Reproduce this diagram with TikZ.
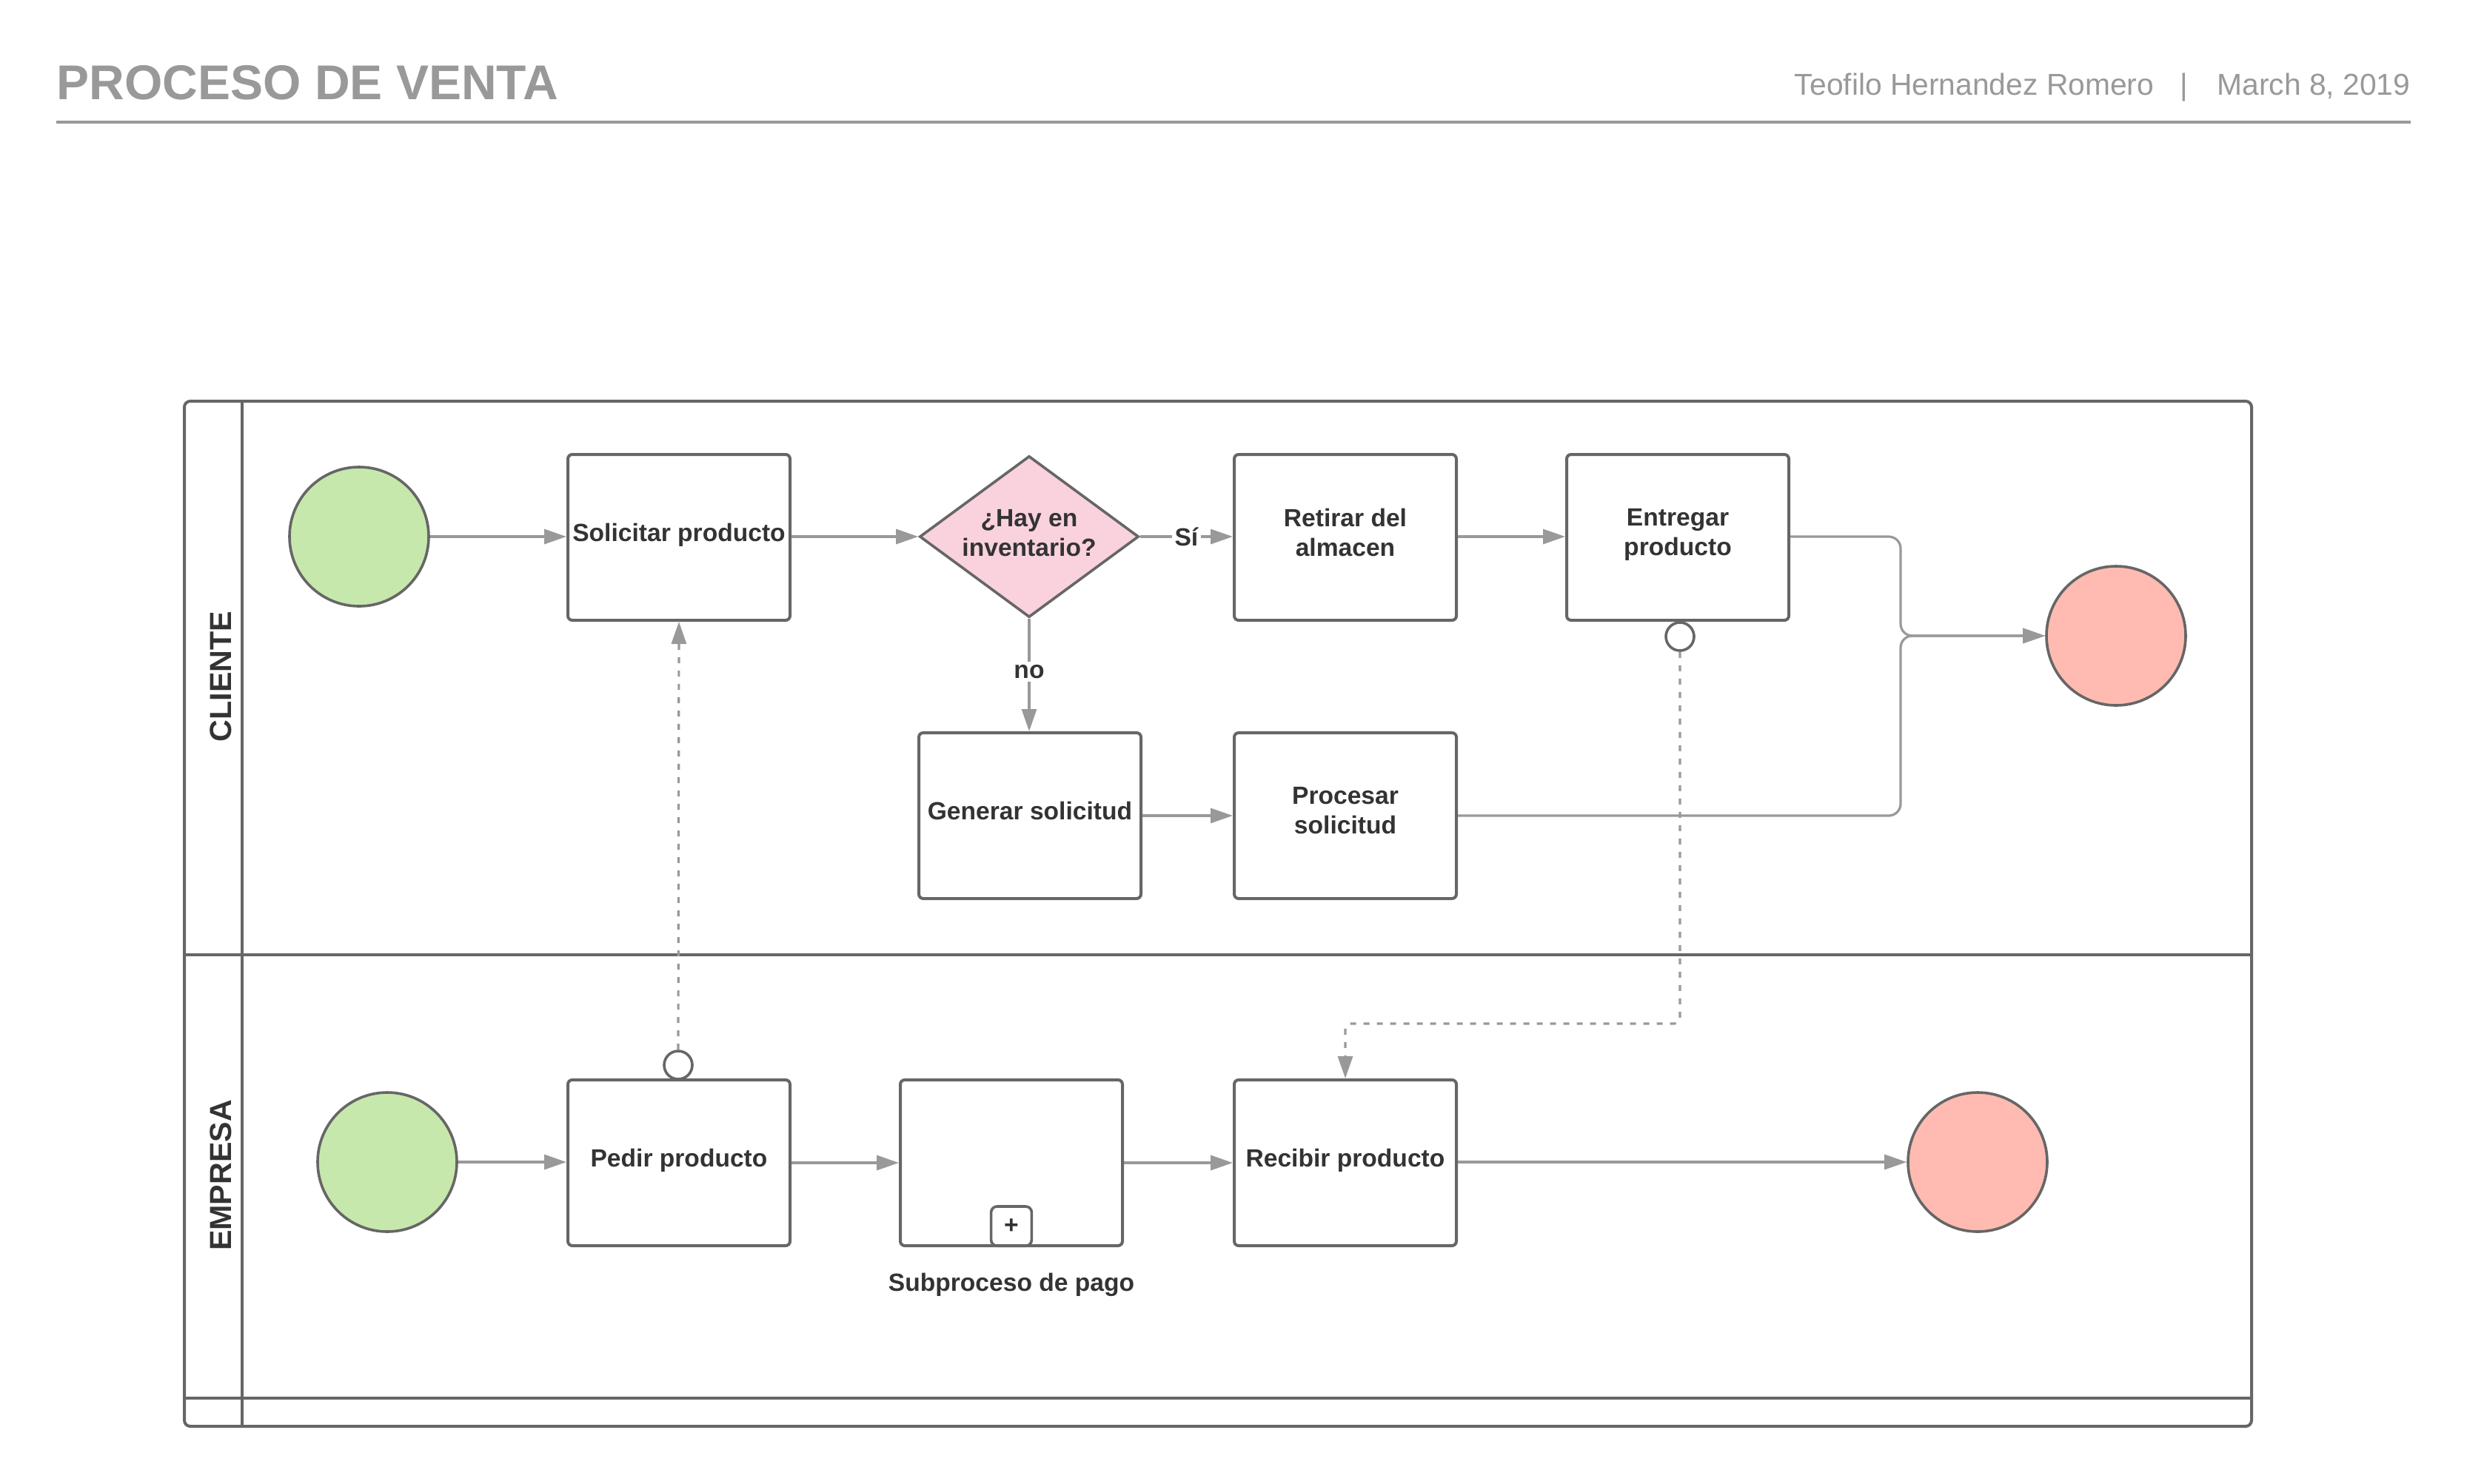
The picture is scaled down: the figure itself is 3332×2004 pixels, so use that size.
\documentclass[tikz,border=0pt]{standalone}
\usepackage{fontspec}
\setmainfont{Liberation Sans}
\usetikzlibrary{shapes.geometric,arrows.meta}
\definecolor{bordc}{HTML}{666666}
\definecolor{linec}{HTML}{999999}
\definecolor{txtc}{HTML}{333333}
\definecolor{greenc}{HTML}{C7E8AC}
\definecolor{redc}{HTML}{FFBBB1}
\definecolor{pinkc}{HTML}{F9D2DE}
\definecolor{titlec}{HTML}{999999}
\begin{document}
\begin{tikzpicture}[x=0.25pt,y=-0.25pt,
  task/.style={draw=bordc,line width=1pt,rounded corners=1.5pt,minimum width=75pt,minimum height=56pt,align=center,font=\fontsize{8.4}{10}\selectfont\bfseries,text=txtc,inner sep=1pt,fill=white,text depth=3.5pt},
  startev/.style={circle,draw=bordc,line width=0.9pt,fill=greenc,minimum size=47pt,inner sep=0pt},
  endev/.style={circle,draw=bordc,line width=0.9pt,fill=redc,minimum size=47pt,inner sep=0pt},
  gate/.style={diamond,draw=bordc,line width=0.9pt,fill=pinkc,minimum width=74pt,minimum height=54.5pt,inner sep=0pt},
  gatetxt/.style={align=center,font=\fontsize{8.4}{10}\selectfont\bfseries,text=txtc,inner sep=0pt},
  msgcirc/.style={circle,draw=bordc,line width=0.9pt,fill=white,minimum size=9.5pt,inner sep=0pt},
  flow/.style={draw=linec,line width=0.8pt,-{Triangle[length=7.5pt,width=5pt]}},
  msgflow/.style={draw=linec,line width=0.8pt,dash pattern=on 2pt off 2.5pt,rounded corners=2pt,-{Triangle[length=7.5pt,width=5pt]}},
  lbl/.style={font=\fontsize{8.4}{10}\selectfont\bfseries,text=txtc,fill=white,inner sep=1pt},
  lanelbl/.style={rotate=90,font=\fontsize{10.3}{12}\selectfont\bfseries,text=txtc},
  pool/.style={draw=bordc,line width=1pt}
]
\useasboundingbox (0,0) rectangle (3332,2004);

% header
\node[anchor=base west,inner sep=0pt,font=\fontsize{16.5}{18}\selectfont\bfseries,text=titlec] (title) at (76,134) {PROCESO DE VENTA};
\node[anchor=base east,inner sep=0pt,font=\fontsize{10.2}{12}\selectfont,text=titlec] (author) at (2910,128) {Teofilo Hernandez Romero};
\node[anchor=base,inner sep=0pt,font=\fontsize{10.2}{12}\selectfont,text=titlec] (sep) at (2950,128) {|};
\node[anchor=base east,inner sep=0pt,font=\fontsize{10.2}{12}\selectfont,text=titlec] (date) at (3256,128) {March 8, 2019};
\draw[draw=titlec,line width=1pt] (76,165) -- (3256,165);

% pool
\draw[pool,rounded corners=2pt] (249,542) rectangle (3041,1927);
\draw[pool] (327,542) -- (327,1927);
\draw[pool] (249,1290) -- (3041,1290);
\draw[pool] (249,1889) -- (3041,1889);
\node[lanelbl] (lcli) at (298,914) {CLIENTE};
\node[lanelbl] (lemp) at (298,1588) {EMPRESA};

% CLIENTE lane
\node[startev] (s1) at (485,725) {};
\node[task] (sol) at (917,726) {Solicitar producto};
\node[gate] (gw) at (1390,725) {};
\node[gatetxt] (gwt) at (1390,720) {¿Hay en\\inventario?};
\node[task] (ret) at (1817,726) {Retirar del\\almacen};
\node[task] (ent) at (2266,726) {Entregar\\producto};
\node[endev] (e1) at (2858,859) {};
\node[task] (gen) at (1391,1102) {Generar solicitud};
\node[task] (pro) at (1817,1102) {Procesar\\solicitud};
\node[msgcirc] (mc1) at (2269,860) {};
\coordinate (jn) at (2567,859);

% EMPRESA lane
\node[startev] (s2) at (523,1570) {};
\node[task] (ped) at (917,1571) {Pedir producto};
\node[draw=bordc,line width=1pt,rounded corners=1.5pt,fill=white,minimum width=75pt,minimum height=56pt,inner sep=0pt] (sub) at (1366,1571) {};
\node[draw=bordc,line width=0.9pt,rounded corners=2pt,minimum width=13.7pt,minimum height=13.3pt,inner sep=0pt,anchor=south,font=\fontsize{8.4}{10}\selectfont\bfseries,text=txtc] (plus) at (sub.south) {+};
\node[font=\fontsize{8.4}{10}\selectfont\bfseries,text=txtc] (sublbl) at (1366,1736) {Subproceso de pago};
\node[task] (rec) at (1817,1571) {Recibir producto};
\node[endev] (e2) at (2671,1570) {};
\node[msgcirc] (mc2) at (916,1439) {};

% flows
\draw[flow] (s1) -- (s1 -| sol.west);
\draw[flow] (sol.east |- gw) -- (gw);
\draw[flow] (gw) -- node[lbl,pos=0.5] {Sí} (gw -| ret.west);
\draw[flow] (gw) -- node[lbl,pos=0.47] {no} (gw |- gen.north);
\draw[flow] (ret.east |- gw) -- (gw -| ent.west);
\draw[flow] (gen) -- (pro);
\draw[flow,rounded corners=4pt] (ent.east |- gw) -| (jn) -- (e1);
\draw[flow,rounded corners=4pt] (pro.east) -| (jn) -- (e1);
\draw[flow] (s2) -- (s2 -| ped.west);
\draw[flow] (ped.east |- sub) -- (sub);
\draw[flow] (sub) -- (sub -| rec.west);
\draw[flow] (rec.east |- e2) -- (e2);

% message flows
\draw[msgflow] (mc2.north) -- (sol.south);
\draw[msgflow] (mc1.south) |- (1817,1383) -- (rec.north);
\end{tikzpicture}
\end{document}
